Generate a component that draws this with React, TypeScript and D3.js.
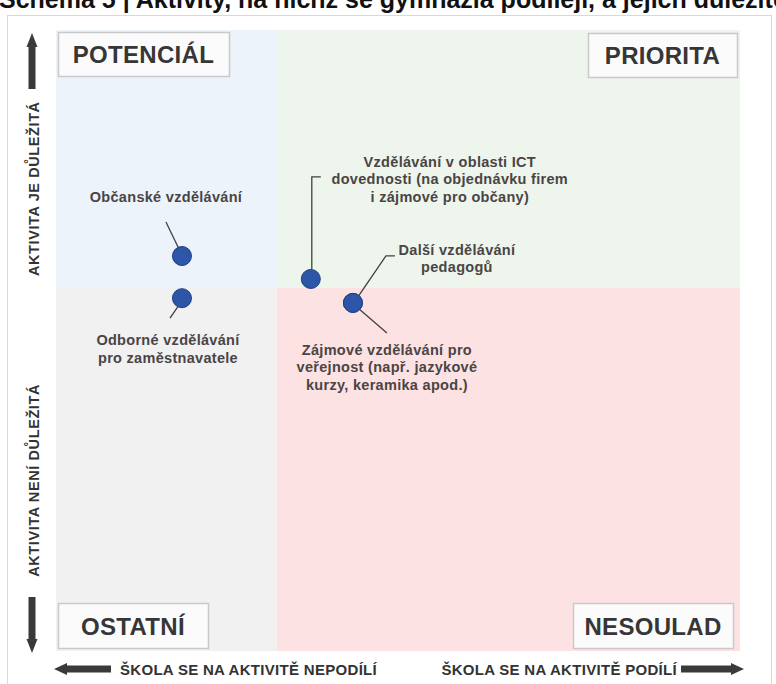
import * as d3 from "d3";
import React, { useRef, useEffect } from "react";

const W = 776;
const H = 684;

// plot box
const plot = { left: 56, right: 740, top: 30, bottom: 651 };

const title = "Schéma 5 | Aktivity, na nichž se gymnázia podílejí, a jejich důležitost";

const quadrantNames = ["POTENCIÁL", "PRIORITA", "OSTATNÍ", "NESOULAD"];
const quadrantColors = ["#edf3fb", "#eef5ec", "#f1f1f1", "#fde2e3"];

const yAxisLabels = ["AKTIVITA  JE  DŮLEŽITÁ", "AKTIVITA  NENÍ  DŮLEŽITÁ"];
const xAxisLabels = ["ŠKOLA  SE  NA  AKTIVITĚ  NEPODÍLÍ", "ŠKOLA  SE  NA  AKTIVITĚ  PODÍLÍ"];

const activities = [
  ["Občanské vzdělávání"],
  ["Odborné vzdělávání", "pro zaměstnavatele"],
  ["Vzdělávání v oblasti ICT", "dovednosti (na objednávku firem", "i zájmové pro občany)"],
  ["Další vzdělávání", "pedagogů"],
  ["Zájmové vzdělávání pro", "veřejnost (např. jazykové", "kurzy, keramika apod.)"],
];
// -1..1, 0 = quadrant border
const participation = [-0.43, -0.43, 0.073, 0.164, 0.164];
const importance = [0.124, -0.028, 0.035, -0.041, -0.041];

// label placement relative to the dot (px)
const labelOffset = [
  [-16, -59],
  [-14, 42],
  [139, -117],
  [104, -53],
  [34, 47],
];
const leaderOffset = [
  [[-16, -34], [-3, -7]],
  [[-3, 7], [-12, 20]],
  [[10, -102], [1, -102], [1, -10]],
  [[5, -6], [33, -47], [42, -47]],
  [[5, 5], [34, 30]],
];

function App() {
  const ref = useRef(null);

  useEffect(() => {
    const svg = d3.select(ref.current);
    svg.selectAll("*").remove();

    const x = d3.scaleLinear().domain([-1, 0, 1]).range([plot.left, 277, plot.right]);
    const y = d3.scaleLinear().domain([-1, 0, 1]).range([plot.bottom, 288, plot.top]);

    svg.append("rect").attr("width", W).attr("height", H).attr("fill", "#fff");

    // title (cut off at the top, like the source)
    svg
      .append("text")
      .attr("x", -1)
      .attr("y", 8)
      .attr("font-family", "Liberation Sans, Arial, sans-serif")
      .attr("font-weight", "bold")
      .attr("font-size", 25)
      .attr("fill", "#111")
      .text(title);

    // frame
    svg
      .append("rect")
      .attr("x", 7.5)
      .attr("y", 15.5)
      .attr("width", 764)
      .attr("height", 700)
      .attr("fill", "#fff")
      .attr("stroke", "#d9d9d9");

    // quadrants
    const quads = [
      [-1, 0, 0, 1],
      [0, 1, 0, 1],
      [-1, 0, -1, 0],
      [0, 1, -1, 0],
    ];
    svg
      .append("g")
      .selectAll("rect")
      .data(quads)
      .join("rect")
      .attr("x", (d) => x(d[0]))
      .attr("width", (d) => x(d[1]) - x(d[0]))
      .attr("y", (d) => y(d[3]))
      .attr("height", (d) => y(d[2]) - y(d[3]))
      .attr("fill", (d, i) => quadrantColors[i]);

    // quadrant name boxes
    const boxes = [
      { x0: 58, y0: 32, w: 171, h: 44 },
      { x0: 588, y0: 33, w: 149, h: 44 },
      { x0: 58, y0: 603, w: 150, h: 45 },
      { x0: 573, y0: 603, w: 160, h: 45 },
    ];
    const qg = svg.append("g").selectAll("g").data(quadrantNames).join("g");
    qg.append("rect")
      .attr("x", (d, i) => boxes[i].x0 + 0.5)
      .attr("y", (d, i) => boxes[i].y0 + 0.5)
      .attr("width", (d, i) => boxes[i].w)
      .attr("height", (d, i) => boxes[i].h)
      .attr("fill", "#fbfbfb")
      .attr("stroke", "#c9c9c9")
      .attr("stroke-width", 1.5);
    qg.append("text")
      .attr("x", (d, i) => boxes[i].x0 + boxes[i].w / 2)
      .attr("y", (d, i) => boxes[i].y0 + boxes[i].h / 2 + 9)
      .attr("text-anchor", "middle")
      .attr("font-family", "Liberation Sans, Arial, sans-serif")
      .attr("font-weight", "bold")
      .attr("font-size", 24)
      .attr("letter-spacing", 0.3)
      .attr("fill", "#363636")
      .text((d) => d);

    // axis arrows
    const arrows = svg.append("g").attr("fill", "#3a3a3a");
    arrows.append("path").attr("d", "M32,33 L37.5,47 L35.5,47 L35.5,89 L28.5,89 L28.5,47 L26.5,47 Z");
    arrows.append("path").attr("d", "M32,653 L37.5,639 L35.5,639 L35.5,597 L28.5,597 L28.5,639 L26.5,639 Z");
    arrows.append("path").attr("d", "M54,669 L67,663 L67,665.5 L111,665.5 L111,672.5 L67,672.5 L67,675 Z");
    arrows.append("path").attr("d", "M744,669 L731,663 L731,665.5 L681,665.5 L681,672.5 L731,672.5 L731,675 Z");

    const axisFont = "Liberation Sans Narrow, Arial Narrow, sans-serif";
    svg
      .append("g")
      .selectAll("text")
      .data(yAxisLabels)
      .join("text")
      .attr("transform", (d, i) => `translate(39,${i === 0 ? y(0.385) : y(-0.53)}) rotate(-90)`)
      .attr("text-anchor", "middle")
      .attr("font-family", axisFont)
      .attr("font-weight", "bold")
      .attr("font-size", 14.5)
      .attr("letter-spacing", 0.6)
      .attr("fill", "#333")
      .text((d) => d);

    svg
      .append("g")
      .selectAll("text")
      .data(xAxisLabels)
      .join("text")
      .attr("x", (d, i) => (i === 0 ? 120 : 677))
      .attr("y", 675)
      .attr("text-anchor", (d, i) => (i === 0 ? "start" : "end"))
      .attr("font-family", axisFont)
      .attr("font-weight", "bold")
      .attr("font-size", 15)
      .attr("letter-spacing", 0.3)
      .attr("fill", "#333")
      .text((d) => d);

    // leaders
    const line = d3.line();
    svg
      .append("g")
      .selectAll("path")
      .data(activities)
      .join("path")
      .attr("d", (d, i) => {
        const cx = x(participation[i]);
        const cy = y(importance[i]);
        return line(leaderOffset[i].map((p) => [cx + p[0], cy + p[1]]));
      })
      .attr("fill", "none")
      .attr("stroke", "#404040")
      .attr("stroke-width", 1.3);

    // dots
    svg
      .append("g")
      .selectAll("circle")
      .data(activities)
      .join("circle")
      .attr("cx", (d, i) => x(participation[i]))
      .attr("cy", (d, i) => y(importance[i]))
      .attr("r", 9.5)
      .attr("fill", "#2d56a8")
      .attr("stroke", "#1f3f80")
      .attr("stroke-width", 1);

    // labels
    const lg = svg
      .append("g")
      .selectAll("text")
      .data(activities)
      .join("text")
      .attr("text-anchor", "middle")
      .attr("font-family", "Liberation Sans, Arial, sans-serif")
      .attr("font-weight", "bold")
      .attr("font-size", 14.5)
      .attr("letter-spacing", 0.3)
      .attr("fill", "#4a4545");
    lg.selectAll("tspan")
      .data((d, i) => d.map((t) => ({ t, i })))
      .join("tspan")
      .attr("x", (d) => x(participation[d.i]) + labelOffset[d.i][0])
      .attr("y", (d, j) => y(importance[d.i]) + labelOffset[d.i][1] + j * 17.5 + 5)
      .text((d) => d.t);
  }, []);

  return (
    <svg
      ref={ref}
      width={W}
      height={H}
      style={{ position: "absolute", left: 0, top: 0 }}
    ></svg>
  );
}

export default App;
